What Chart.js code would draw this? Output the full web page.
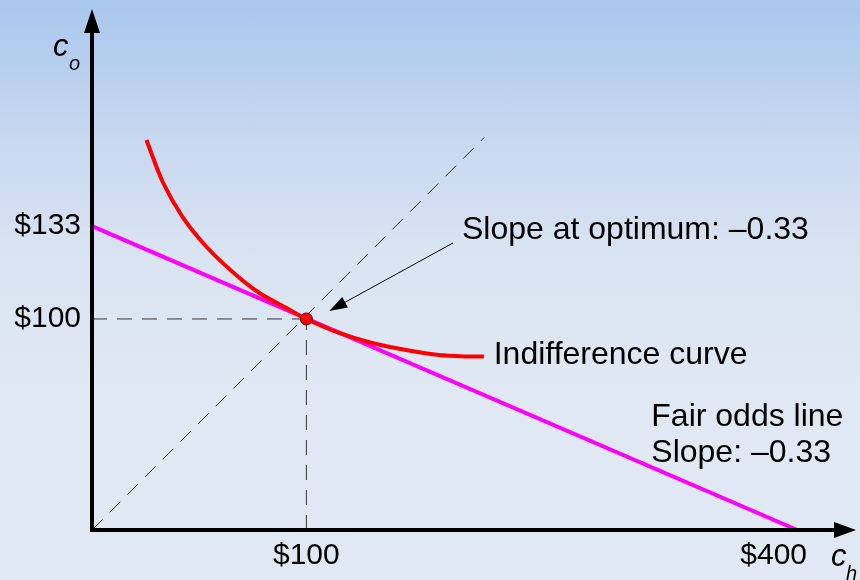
<!DOCTYPE html>
<html>
<head>
<meta charset="utf-8">
<script src="https://cdn.jsdelivr.net/npm/chart.js@4/dist/chart.umd.min.js"></script>
<style>
  html, body { margin: 0; padding: 0; }
  body {
    width: 860px; height: 580px; overflow: hidden;
    background: linear-gradient(to bottom, #a8c7ed 0%, #c9d9f0 25%, #dae4f2 45%, #e0e8f3 70%, #e0e8f3 100%);
  }
</style>
</head>
<body>
<canvas id="chart" width="860" height="580"></canvas>
<script>
// chart units: $100 sits at 100 on both axes (the figure is schematic)
const xTickValues = [100, 318];
const xTickLabels = ['$100', '$400'];
const yTickValues = [100, 144];
const yTickLabels = ['$100', '$133'];

const fairOddsX = [0, 329];
const fairOddsY = [144, 0];

const curveX = [25.4, 33.0, 42.3, 53.5, 65.6, 78.1, 90.7, 100, 115.3, 130.7, 146.5, 161.9, 176, 182.8];
const curveY = [184.8, 164.9, 148.3, 134.1, 122.3, 112.3, 105.2, 100, 93.4, 88.6, 85.3, 82.9, 82.2, 82.2];

const certaintyX = [0, 183];
const certaintyY = [0, 186];

const optimum = { x: 100, y: 100 };

const FONT = '"Liberation Sans", Arial, sans-serif';

function pts(xs, ys) {
	return xs.map((x, i) => ({ x: x, y: ys[i] }));
}

function noPadding(s) {
	s.paddingTop = 0;
	s.paddingBottom = 0;
	s.paddingLeft = 0;
	s.paddingRight = 0;
}

const dashed = {
	borderColor: '#333333',
	borderWidth: 1,
	borderDash: [15, 10],
	pointRadius: 0,
	clip: false,
	order: 3
};

const sketch = {
	id: 'sketch',
	afterDatasetsDraw(chart) {
		const ctx = chart.ctx;
		const xs = chart.scales.x;
		const ys = chart.scales.y;
		const area = chart.chartArea;
		const ox = xs.getPixelForValue(0);
		const oy = ys.getPixelForValue(0);
		const tipX = area.right + 3;

		ctx.save();
		// axes with arrow heads
		ctx.strokeStyle = '#000';
		ctx.fillStyle = '#000';
		ctx.lineWidth = 4;
		ctx.beginPath();
		ctx.moveTo(ox, oy + 2);
		ctx.lineTo(ox, area.top + 20);
		ctx.moveTo(ox - 2, oy);
		ctx.lineTo(tipX - 20, oy);
		ctx.stroke();
		ctx.beginPath();
		ctx.moveTo(ox - 8, area.top + 23);
		ctx.lineTo(ox + 8, area.top + 23);
		ctx.lineTo(ox, area.top - 1);
		ctx.closePath();
		ctx.fill();
		ctx.beginPath();
		ctx.moveTo(tipX - 22, oy - 8);
		ctx.lineTo(tipX - 22, oy + 8);
		ctx.lineTo(tipX, oy);
		ctx.closePath();
		ctx.fill();

		// axis titles
		ctx.textBaseline = 'middle';
		ctx.textAlign = 'left';
		ctx.font = 'italic 31px ' + FONT;
		ctx.fillText('c', ox - 39, area.top + 37);
		ctx.fillText('c', tipX - 25, oy + 27);
		ctx.font = 'italic 20px ' + FONT;
		ctx.fillText('o', ox - 23, area.top + 54);
		ctx.fillText('h', tipX - 10, oy + 44);

		// annotation arrow
		const ax0 = xs.getPixelForValue(168.4), ay0 = ys.getPixelForValue(136);
		const ax1 = xs.getPixelForValue(110.7), ay1 = ys.getPixelForValue(103.8);
		const ang = Math.atan2(ay1 - ay0, ax1 - ax0);
		ctx.lineWidth = 1;
		ctx.beginPath();
		ctx.moveTo(ax0, ay0);
		ctx.lineTo(ax1 - 14 * Math.cos(ang), ay1 - 14 * Math.sin(ang));
		ctx.stroke();
		ctx.beginPath();
		ctx.moveTo(ax1, ay1);
		ctx.lineTo(ax1 - 18 * Math.cos(ang) + 6 * Math.sin(ang), ay1 - 18 * Math.sin(ang) - 6 * Math.cos(ang));
		ctx.lineTo(ax1 - 18 * Math.cos(ang) - 6 * Math.sin(ang), ay1 - 18 * Math.sin(ang) + 6 * Math.cos(ang));
		ctx.closePath();
		ctx.fill();

		// labels
		ctx.font = '32px ' + FONT;
		const notes = [
			['Slope at optimum: \u20130.33', 172.6, 142.2],
			['Indifference curve', 187.4, 82.9],
			['Fair odds line', 260.9, 53.6],
			['Slope: \u20130.33', 260.9, 36.5]
		];
		notes.forEach(n => {
			ctx.fillText(n[0], xs.getPixelForValue(n[1]), ys.getPixelForValue(n[2]));
		});
		ctx.restore();
	}
};

const chart = new Chart(document.getElementById('chart'), {
	type: 'scatter',
	data: {
		datasets: [
			{
				data: [optimum],
				pointRadius: 6,
				pointBackgroundColor: '#ff0000',
				pointBorderColor: '#5a0000',
				pointBorderWidth: 1,
				showLine: false,
				clip: false,
				order: 0
			},
			{
				data: pts(curveX, curveY),
				showLine: true,
				borderColor: '#ff0000',
				borderWidth: 4,
				tension: 0.3,
				pointRadius: 0,
				clip: false,
				order: 1
			},
			{
				data: pts(fairOddsX, fairOddsY),
				showLine: true,
				borderColor: '#ff00ff',
				borderWidth: 4,
				pointRadius: 0,
				clip: false,
				order: 2
			},
			Object.assign({ data: pts(certaintyX, certaintyY), showLine: true }, dashed),
			Object.assign({ data: [{ x: 0, y: 100 }, optimum], showLine: true }, dashed),
			Object.assign({ data: [{ x: 100, y: 0 }, optimum], showLine: true }, dashed)
		]
	},
	options: {
		responsive: false,
		devicePixelRatio: 1,
		animation: false,
		layout: { padding: { top: 10, right: 2, left: 0, bottom: 0 } },
		plugins: { legend: { display: false }, tooltip: { enabled: false } },
		scales: {
			x: {
				type: 'linear',
				min: 0,
				max: 355,
				afterBuildTicks: s => { s.ticks = xTickValues.map(v => ({ value: v })); },
				afterFit: s => { s.height = 50; noPadding(s); },
				ticks: {
					callback: (v, i) => xTickLabels[i],
					font: { family: FONT, size: 30 },
					color: '#000',
					padding: 8,
					maxRotation: 0,
					autoSkip: false
				},
				grid: { display: false, drawTicks: false },
				border: { display: false }
			},
			y: {
				type: 'linear',
				min: 0,
				max: 246.4,
				afterBuildTicks: s => { s.ticks = yTickValues.map(v => ({ value: v })); },
				afterFit: s => { s.width = 92; noPadding(s); },
				ticks: {
					callback: (v, i) => yTickLabels[i],
					font: { family: FONT, size: 30 },
					color: '#000',
					padding: 11,
					autoSkip: false
				},
				grid: { display: false, drawTicks: false },
				border: { display: false }
			}
		}
	},
	plugins: [sketch]
});
</script>
</body>
</html>
